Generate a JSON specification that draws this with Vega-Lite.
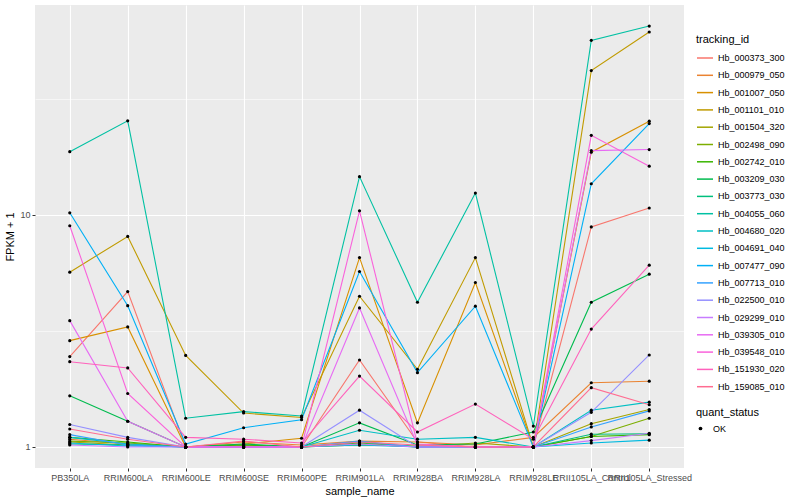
{
"$schema": "https://vega.github.io/schema/vega-lite/v6.json",
"width": 649, "height": 463,
"autosize": {"type": "none"},
"padding": {"left": 35, "top": 5, "right": 116, "bottom": 32},
"data": {"values": [
{"tracking_id":"Hb_000373_300","sample_name":"PB350LA","fpkm1":2.45,"quant_status":"OK"},
{"tracking_id":"Hb_000373_300","sample_name":"RRIM600LA","fpkm1":4.67,"quant_status":"OK"},
{"tracking_id":"Hb_000373_300","sample_name":"RRIM600LE","fpkm1":1.0,"quant_status":"OK"},
{"tracking_id":"Hb_000373_300","sample_name":"RRIM600SE","fpkm1":1.02,"quant_status":"OK"},
{"tracking_id":"Hb_000373_300","sample_name":"RRIM600PE","fpkm1":1.0,"quant_status":"OK"},
{"tracking_id":"Hb_000373_300","sample_name":"RRIM901LA","fpkm1":2.37,"quant_status":"OK"},
{"tracking_id":"Hb_000373_300","sample_name":"RRIM928BA","fpkm1":1.05,"quant_status":"OK"},
{"tracking_id":"Hb_000373_300","sample_name":"RRIM928LA","fpkm1":1.0,"quant_status":"OK"},
{"tracking_id":"Hb_000373_300","sample_name":"RRIM928LE","fpkm1":1.0,"quant_status":"OK"},
{"tracking_id":"Hb_000373_300","sample_name":"RRII105LA_Control","fpkm1":8.87,"quant_status":"OK"},
{"tracking_id":"Hb_000373_300","sample_name":"RRII105LA_Stressed","fpkm1":10.7,"quant_status":"OK"},
{"tracking_id":"Hb_000979_050","sample_name":"PB350LA","fpkm1":1.08,"quant_status":"OK"},
{"tracking_id":"Hb_000979_050","sample_name":"RRIM600LA","fpkm1":1.03,"quant_status":"OK"},
{"tracking_id":"Hb_000979_050","sample_name":"RRIM600LE","fpkm1":1.0,"quant_status":"OK"},
{"tracking_id":"Hb_000979_050","sample_name":"RRIM600SE","fpkm1":1.05,"quant_status":"OK"},
{"tracking_id":"Hb_000979_050","sample_name":"RRIM600PE","fpkm1":1.02,"quant_status":"OK"},
{"tracking_id":"Hb_000979_050","sample_name":"RRIM901LA","fpkm1":1.06,"quant_status":"OK"},
{"tracking_id":"Hb_000979_050","sample_name":"RRIM928BA","fpkm1":1.05,"quant_status":"OK"},
{"tracking_id":"Hb_000979_050","sample_name":"RRIM928LA","fpkm1":1.02,"quant_status":"OK"},
{"tracking_id":"Hb_000979_050","sample_name":"RRIM928LE","fpkm1":1.1,"quant_status":"OK"},
{"tracking_id":"Hb_000979_050","sample_name":"RRII105LA_Control","fpkm1":1.89,"quant_status":"OK"},
{"tracking_id":"Hb_000979_050","sample_name":"RRII105LA_Stressed","fpkm1":1.92,"quant_status":"OK"},
{"tracking_id":"Hb_001007_050","sample_name":"PB350LA","fpkm1":2.87,"quant_status":"OK"},
{"tracking_id":"Hb_001007_050","sample_name":"RRIM600LA","fpkm1":3.29,"quant_status":"OK"},
{"tracking_id":"Hb_001007_050","sample_name":"RRIM600LE","fpkm1":1.0,"quant_status":"OK"},
{"tracking_id":"Hb_001007_050","sample_name":"RRIM600SE","fpkm1":1.03,"quant_status":"OK"},
{"tracking_id":"Hb_001007_050","sample_name":"RRIM600PE","fpkm1":1.09,"quant_status":"OK"},
{"tracking_id":"Hb_001007_050","sample_name":"RRIM901LA","fpkm1":6.54,"quant_status":"OK"},
{"tracking_id":"Hb_001007_050","sample_name":"RRIM928BA","fpkm1":1.27,"quant_status":"OK"},
{"tracking_id":"Hb_001007_050","sample_name":"RRIM928LA","fpkm1":5.11,"quant_status":"OK"},
{"tracking_id":"Hb_001007_050","sample_name":"RRIM928LE","fpkm1":1.0,"quant_status":"OK"},
{"tracking_id":"Hb_001007_050","sample_name":"RRII105LA_Control","fpkm1":18.6,"quant_status":"OK"},
{"tracking_id":"Hb_001007_050","sample_name":"RRII105LA_Stressed","fpkm1":25.3,"quant_status":"OK"},
{"tracking_id":"Hb_001101_010","sample_name":"PB350LA","fpkm1":5.66,"quant_status":"OK"},
{"tracking_id":"Hb_001101_010","sample_name":"RRIM600LA","fpkm1":8.07,"quant_status":"OK"},
{"tracking_id":"Hb_001101_010","sample_name":"RRIM600LE","fpkm1":2.48,"quant_status":"OK"},
{"tracking_id":"Hb_001101_010","sample_name":"RRIM600SE","fpkm1":1.40,"quant_status":"OK"},
{"tracking_id":"Hb_001101_010","sample_name":"RRIM600PE","fpkm1":1.34,"quant_status":"OK"},
{"tracking_id":"Hb_001101_010","sample_name":"RRIM901LA","fpkm1":4.46,"quant_status":"OK"},
{"tracking_id":"Hb_001101_010","sample_name":"RRIM928BA","fpkm1":2.16,"quant_status":"OK"},
{"tracking_id":"Hb_001101_010","sample_name":"RRIM928LA","fpkm1":6.54,"quant_status":"OK"},
{"tracking_id":"Hb_001101_010","sample_name":"RRIM928LE","fpkm1":1.0,"quant_status":"OK"},
{"tracking_id":"Hb_001101_010","sample_name":"RRII105LA_Control","fpkm1":41.8,"quant_status":"OK"},
{"tracking_id":"Hb_001101_010","sample_name":"RRII105LA_Stressed","fpkm1":61.3,"quant_status":"OK"},
{"tracking_id":"Hb_001504_320","sample_name":"PB350LA","fpkm1":1.05,"quant_status":"OK"},
{"tracking_id":"Hb_001504_320","sample_name":"RRIM600LA","fpkm1":1.02,"quant_status":"OK"},
{"tracking_id":"Hb_001504_320","sample_name":"RRIM600LE","fpkm1":1.0,"quant_status":"OK"},
{"tracking_id":"Hb_001504_320","sample_name":"RRIM600SE","fpkm1":1.0,"quant_status":"OK"},
{"tracking_id":"Hb_001504_320","sample_name":"RRIM600PE","fpkm1":1.0,"quant_status":"OK"},
{"tracking_id":"Hb_001504_320","sample_name":"RRIM901LA","fpkm1":1.03,"quant_status":"OK"},
{"tracking_id":"Hb_001504_320","sample_name":"RRIM928BA","fpkm1":1.0,"quant_status":"OK"},
{"tracking_id":"Hb_001504_320","sample_name":"RRIM928LA","fpkm1":1.04,"quant_status":"OK"},
{"tracking_id":"Hb_001504_320","sample_name":"RRIM928LE","fpkm1":1.0,"quant_status":"OK"},
{"tracking_id":"Hb_001504_320","sample_name":"RRII105LA_Control","fpkm1":1.26,"quant_status":"OK"},
{"tracking_id":"Hb_001504_320","sample_name":"RRII105LA_Stressed","fpkm1":1.45,"quant_status":"OK"},
{"tracking_id":"Hb_002498_090","sample_name":"PB350LA","fpkm1":1.06,"quant_status":"OK"},
{"tracking_id":"Hb_002498_090","sample_name":"RRIM600LA","fpkm1":1.04,"quant_status":"OK"},
{"tracking_id":"Hb_002498_090","sample_name":"RRIM600LE","fpkm1":1.0,"quant_status":"OK"},
{"tracking_id":"Hb_002498_090","sample_name":"RRIM600SE","fpkm1":1.01,"quant_status":"OK"},
{"tracking_id":"Hb_002498_090","sample_name":"RRIM600PE","fpkm1":1.0,"quant_status":"OK"},
{"tracking_id":"Hb_002498_090","sample_name":"RRIM901LA","fpkm1":1.02,"quant_status":"OK"},
{"tracking_id":"Hb_002498_090","sample_name":"RRIM928BA","fpkm1":1.01,"quant_status":"OK"},
{"tracking_id":"Hb_002498_090","sample_name":"RRIM928LA","fpkm1":1.0,"quant_status":"OK"},
{"tracking_id":"Hb_002498_090","sample_name":"RRIM928LE","fpkm1":1.0,"quant_status":"OK"},
{"tracking_id":"Hb_002498_090","sample_name":"RRII105LA_Control","fpkm1":1.11,"quant_status":"OK"},
{"tracking_id":"Hb_002498_090","sample_name":"RRII105LA_Stressed","fpkm1":1.33,"quant_status":"OK"},
{"tracking_id":"Hb_002742_010","sample_name":"PB350LA","fpkm1":1.1,"quant_status":"OK"},
{"tracking_id":"Hb_002742_010","sample_name":"RRIM600LA","fpkm1":1.05,"quant_status":"OK"},
{"tracking_id":"Hb_002742_010","sample_name":"RRIM600LE","fpkm1":1.0,"quant_status":"OK"},
{"tracking_id":"Hb_002742_010","sample_name":"RRIM600SE","fpkm1":1.02,"quant_status":"OK"},
{"tracking_id":"Hb_002742_010","sample_name":"RRIM600PE","fpkm1":1.0,"quant_status":"OK"},
{"tracking_id":"Hb_002742_010","sample_name":"RRIM901LA","fpkm1":1.04,"quant_status":"OK"},
{"tracking_id":"Hb_002742_010","sample_name":"RRIM928BA","fpkm1":1.0,"quant_status":"OK"},
{"tracking_id":"Hb_002742_010","sample_name":"RRIM928LA","fpkm1":1.0,"quant_status":"OK"},
{"tracking_id":"Hb_002742_010","sample_name":"RRIM928LE","fpkm1":1.0,"quant_status":"OK"},
{"tracking_id":"Hb_002742_010","sample_name":"RRII105LA_Control","fpkm1":1.11,"quant_status":"OK"},
{"tracking_id":"Hb_002742_010","sample_name":"RRII105LA_Stressed","fpkm1":1.13,"quant_status":"OK"},
{"tracking_id":"Hb_003209_030","sample_name":"PB350LA","fpkm1":1.66,"quant_status":"OK"},
{"tracking_id":"Hb_003209_030","sample_name":"RRIM600LA","fpkm1":1.29,"quant_status":"OK"},
{"tracking_id":"Hb_003209_030","sample_name":"RRIM600LE","fpkm1":1.0,"quant_status":"OK"},
{"tracking_id":"Hb_003209_030","sample_name":"RRIM600SE","fpkm1":1.03,"quant_status":"OK"},
{"tracking_id":"Hb_003209_030","sample_name":"RRIM600PE","fpkm1":1.0,"quant_status":"OK"},
{"tracking_id":"Hb_003209_030","sample_name":"RRIM901LA","fpkm1":1.27,"quant_status":"OK"},
{"tracking_id":"Hb_003209_030","sample_name":"RRIM928BA","fpkm1":1.02,"quant_status":"OK"},
{"tracking_id":"Hb_003209_030","sample_name":"RRIM928LA","fpkm1":1.03,"quant_status":"OK"},
{"tracking_id":"Hb_003209_030","sample_name":"RRIM928LE","fpkm1":1.16,"quant_status":"OK"},
{"tracking_id":"Hb_003209_030","sample_name":"RRII105LA_Control","fpkm1":4.2,"quant_status":"OK"},
{"tracking_id":"Hb_003209_030","sample_name":"RRII105LA_Stressed","fpkm1":5.55,"quant_status":"OK"},
{"tracking_id":"Hb_003773_030","sample_name":"PB350LA","fpkm1":1.03,"quant_status":"OK"},
{"tracking_id":"Hb_003773_030","sample_name":"RRIM600LA","fpkm1":1.02,"quant_status":"OK"},
{"tracking_id":"Hb_003773_030","sample_name":"RRIM600LE","fpkm1":1.0,"quant_status":"OK"},
{"tracking_id":"Hb_003773_030","sample_name":"RRIM600SE","fpkm1":1.0,"quant_status":"OK"},
{"tracking_id":"Hb_003773_030","sample_name":"RRIM600PE","fpkm1":1.0,"quant_status":"OK"},
{"tracking_id":"Hb_003773_030","sample_name":"RRIM901LA","fpkm1":1.05,"quant_status":"OK"},
{"tracking_id":"Hb_003773_030","sample_name":"RRIM928BA","fpkm1":1.0,"quant_status":"OK"},
{"tracking_id":"Hb_003773_030","sample_name":"RRIM928LA","fpkm1":1.0,"quant_status":"OK"},
{"tracking_id":"Hb_003773_030","sample_name":"RRIM928LE","fpkm1":1.0,"quant_status":"OK"},
{"tracking_id":"Hb_003773_030","sample_name":"RRII105LA_Control","fpkm1":1.135,"quant_status":"OK"},
{"tracking_id":"Hb_003773_030","sample_name":"RRII105LA_Stressed","fpkm1":1.14,"quant_status":"OK"},
{"tracking_id":"Hb_004055_060","sample_name":"PB350LA","fpkm1":18.7,"quant_status":"OK"},
{"tracking_id":"Hb_004055_060","sample_name":"RRIM600LA","fpkm1":25.4,"quant_status":"OK"},
{"tracking_id":"Hb_004055_060","sample_name":"RRIM600LE","fpkm1":1.33,"quant_status":"OK"},
{"tracking_id":"Hb_004055_060","sample_name":"RRIM600SE","fpkm1":1.42,"quant_status":"OK"},
{"tracking_id":"Hb_004055_060","sample_name":"RRIM600PE","fpkm1":1.36,"quant_status":"OK"},
{"tracking_id":"Hb_004055_060","sample_name":"RRIM901LA","fpkm1":14.6,"quant_status":"OK"},
{"tracking_id":"Hb_004055_060","sample_name":"RRIM928BA","fpkm1":4.2,"quant_status":"OK"},
{"tracking_id":"Hb_004055_060","sample_name":"RRIM928LA","fpkm1":12.4,"quant_status":"OK"},
{"tracking_id":"Hb_004055_060","sample_name":"RRIM928LE","fpkm1":1.23,"quant_status":"OK"},
{"tracking_id":"Hb_004055_060","sample_name":"RRII105LA_Control","fpkm1":56.4,"quant_status":"OK"},
{"tracking_id":"Hb_004055_060","sample_name":"RRII105LA_Stressed","fpkm1":65.0,"quant_status":"OK"},
{"tracking_id":"Hb_004680_020","sample_name":"PB350LA","fpkm1":1.1,"quant_status":"OK"},
{"tracking_id":"Hb_004680_020","sample_name":"RRIM600LA","fpkm1":1.03,"quant_status":"OK"},
{"tracking_id":"Hb_004680_020","sample_name":"RRIM600LE","fpkm1":1.0,"quant_status":"OK"},
{"tracking_id":"Hb_004680_020","sample_name":"RRIM600SE","fpkm1":1.0,"quant_status":"OK"},
{"tracking_id":"Hb_004680_020","sample_name":"RRIM600PE","fpkm1":1.0,"quant_status":"OK"},
{"tracking_id":"Hb_004680_020","sample_name":"RRIM901LA","fpkm1":1.18,"quant_status":"OK"},
{"tracking_id":"Hb_004680_020","sample_name":"RRIM928BA","fpkm1":1.08,"quant_status":"OK"},
{"tracking_id":"Hb_004680_020","sample_name":"RRIM928LA","fpkm1":1.10,"quant_status":"OK"},
{"tracking_id":"Hb_004680_020","sample_name":"RRIM928LE","fpkm1":1.0,"quant_status":"OK"},
{"tracking_id":"Hb_004680_020","sample_name":"RRII105LA_Control","fpkm1":1.44,"quant_status":"OK"},
{"tracking_id":"Hb_004680_020","sample_name":"RRII105LA_Stressed","fpkm1":1.56,"quant_status":"OK"},
{"tracking_id":"Hb_004691_040","sample_name":"PB350LA","fpkm1":1.04,"quant_status":"OK"},
{"tracking_id":"Hb_004691_040","sample_name":"RRIM600LA","fpkm1":1.01,"quant_status":"OK"},
{"tracking_id":"Hb_004691_040","sample_name":"RRIM600LE","fpkm1":1.0,"quant_status":"OK"},
{"tracking_id":"Hb_004691_040","sample_name":"RRIM600SE","fpkm1":1.0,"quant_status":"OK"},
{"tracking_id":"Hb_004691_040","sample_name":"RRIM600PE","fpkm1":1.0,"quant_status":"OK"},
{"tracking_id":"Hb_004691_040","sample_name":"RRIM901LA","fpkm1":1.02,"quant_status":"OK"},
{"tracking_id":"Hb_004691_040","sample_name":"RRIM928BA","fpkm1":1.0,"quant_status":"OK"},
{"tracking_id":"Hb_004691_040","sample_name":"RRIM928LA","fpkm1":1.0,"quant_status":"OK"},
{"tracking_id":"Hb_004691_040","sample_name":"RRIM928LE","fpkm1":1.0,"quant_status":"OK"},
{"tracking_id":"Hb_004691_040","sample_name":"RRII105LA_Control","fpkm1":1.04,"quant_status":"OK"},
{"tracking_id":"Hb_004691_040","sample_name":"RRII105LA_Stressed","fpkm1":1.07,"quant_status":"OK"},
{"tracking_id":"Hb_007477_090","sample_name":"PB350LA","fpkm1":10.2,"quant_status":"OK"},
{"tracking_id":"Hb_007477_090","sample_name":"RRIM600LA","fpkm1":4.06,"quant_status":"OK"},
{"tracking_id":"Hb_007477_090","sample_name":"RRIM600LE","fpkm1":1.03,"quant_status":"OK"},
{"tracking_id":"Hb_007477_090","sample_name":"RRIM600SE","fpkm1":1.21,"quant_status":"OK"},
{"tracking_id":"Hb_007477_090","sample_name":"RRIM600PE","fpkm1":1.31,"quant_status":"OK"},
{"tracking_id":"Hb_007477_090","sample_name":"RRIM901LA","fpkm1":5.70,"quant_status":"OK"},
{"tracking_id":"Hb_007477_090","sample_name":"RRIM928BA","fpkm1":2.09,"quant_status":"OK"},
{"tracking_id":"Hb_007477_090","sample_name":"RRIM928LA","fpkm1":4.04,"quant_status":"OK"},
{"tracking_id":"Hb_007477_090","sample_name":"RRIM928LE","fpkm1":1.0,"quant_status":"OK"},
{"tracking_id":"Hb_007477_090","sample_name":"RRII105LA_Control","fpkm1":13.6,"quant_status":"OK"},
{"tracking_id":"Hb_007477_090","sample_name":"RRII105LA_Stressed","fpkm1":24.7,"quant_status":"OK"},
{"tracking_id":"Hb_007713_010","sample_name":"PB350LA","fpkm1":1.13,"quant_status":"OK"},
{"tracking_id":"Hb_007713_010","sample_name":"RRIM600LA","fpkm1":1.02,"quant_status":"OK"},
{"tracking_id":"Hb_007713_010","sample_name":"RRIM600LE","fpkm1":1.0,"quant_status":"OK"},
{"tracking_id":"Hb_007713_010","sample_name":"RRIM600SE","fpkm1":1.0,"quant_status":"OK"},
{"tracking_id":"Hb_007713_010","sample_name":"RRIM600PE","fpkm1":1.0,"quant_status":"OK"},
{"tracking_id":"Hb_007713_010","sample_name":"RRIM901LA","fpkm1":1.06,"quant_status":"OK"},
{"tracking_id":"Hb_007713_010","sample_name":"RRIM928BA","fpkm1":1.0,"quant_status":"OK"},
{"tracking_id":"Hb_007713_010","sample_name":"RRIM928LA","fpkm1":1.0,"quant_status":"OK"},
{"tracking_id":"Hb_007713_010","sample_name":"RRIM928LE","fpkm1":1.0,"quant_status":"OK"},
{"tracking_id":"Hb_007713_010","sample_name":"RRII105LA_Control","fpkm1":1.22,"quant_status":"OK"},
{"tracking_id":"Hb_007713_010","sample_name":"RRII105LA_Stressed","fpkm1":1.43,"quant_status":"OK"},
{"tracking_id":"Hb_022500_010","sample_name":"PB350LA","fpkm1":1.25,"quant_status":"OK"},
{"tracking_id":"Hb_022500_010","sample_name":"RRIM600LA","fpkm1":1.1,"quant_status":"OK"},
{"tracking_id":"Hb_022500_010","sample_name":"RRIM600LE","fpkm1":1.0,"quant_status":"OK"},
{"tracking_id":"Hb_022500_010","sample_name":"RRIM600SE","fpkm1":1.0,"quant_status":"OK"},
{"tracking_id":"Hb_022500_010","sample_name":"RRIM600PE","fpkm1":1.0,"quant_status":"OK"},
{"tracking_id":"Hb_022500_010","sample_name":"RRIM901LA","fpkm1":1.44,"quant_status":"OK"},
{"tracking_id":"Hb_022500_010","sample_name":"RRIM928BA","fpkm1":1.0,"quant_status":"OK"},
{"tracking_id":"Hb_022500_010","sample_name":"RRIM928LA","fpkm1":1.0,"quant_status":"OK"},
{"tracking_id":"Hb_022500_010","sample_name":"RRIM928LE","fpkm1":1.0,"quant_status":"OK"},
{"tracking_id":"Hb_022500_010","sample_name":"RRII105LA_Control","fpkm1":1.41,"quant_status":"OK"},
{"tracking_id":"Hb_022500_010","sample_name":"RRII105LA_Stressed","fpkm1":2.49,"quant_status":"OK"},
{"tracking_id":"Hb_029299_010","sample_name":"PB350LA","fpkm1":1.02,"quant_status":"OK"},
{"tracking_id":"Hb_029299_010","sample_name":"RRIM600LA","fpkm1":1.0,"quant_status":"OK"},
{"tracking_id":"Hb_029299_010","sample_name":"RRIM600LE","fpkm1":1.0,"quant_status":"OK"},
{"tracking_id":"Hb_029299_010","sample_name":"RRIM600SE","fpkm1":1.0,"quant_status":"OK"},
{"tracking_id":"Hb_029299_010","sample_name":"RRIM600PE","fpkm1":1.0,"quant_status":"OK"},
{"tracking_id":"Hb_029299_010","sample_name":"RRIM901LA","fpkm1":1.03,"quant_status":"OK"},
{"tracking_id":"Hb_029299_010","sample_name":"RRIM928BA","fpkm1":1.0,"quant_status":"OK"},
{"tracking_id":"Hb_029299_010","sample_name":"RRIM928LA","fpkm1":1.0,"quant_status":"OK"},
{"tracking_id":"Hb_029299_010","sample_name":"RRIM928LE","fpkm1":1.0,"quant_status":"OK"},
{"tracking_id":"Hb_029299_010","sample_name":"RRII105LA_Control","fpkm1":1.065,"quant_status":"OK"},
{"tracking_id":"Hb_029299_010","sample_name":"RRII105LA_Stressed","fpkm1":1.145,"quant_status":"OK"},
{"tracking_id":"Hb_039305_010","sample_name":"PB350LA","fpkm1":3.50,"quant_status":"OK"},
{"tracking_id":"Hb_039305_010","sample_name":"RRIM600LA","fpkm1":1.29,"quant_status":"OK"},
{"tracking_id":"Hb_039305_010","sample_name":"RRIM600LE","fpkm1":1.0,"quant_status":"OK"},
{"tracking_id":"Hb_039305_010","sample_name":"RRIM600SE","fpkm1":1.0,"quant_status":"OK"},
{"tracking_id":"Hb_039305_010","sample_name":"RRIM600PE","fpkm1":1.0,"quant_status":"OK"},
{"tracking_id":"Hb_039305_010","sample_name":"RRIM901LA","fpkm1":3.97,"quant_status":"OK"},
{"tracking_id":"Hb_039305_010","sample_name":"RRIM928BA","fpkm1":1.02,"quant_status":"OK"},
{"tracking_id":"Hb_039305_010","sample_name":"RRIM928LA","fpkm1":1.0,"quant_status":"OK"},
{"tracking_id":"Hb_039305_010","sample_name":"RRIM928LE","fpkm1":1.0,"quant_status":"OK"},
{"tracking_id":"Hb_039305_010","sample_name":"RRII105LA_Control","fpkm1":18.9,"quant_status":"OK"},
{"tracking_id":"Hb_039305_010","sample_name":"RRII105LA_Stressed","fpkm1":19.1,"quant_status":"OK"},
{"tracking_id":"Hb_039548_010","sample_name":"PB350LA","fpkm1":8.97,"quant_status":"OK"},
{"tracking_id":"Hb_039548_010","sample_name":"RRIM600LA","fpkm1":1.70,"quant_status":"OK"},
{"tracking_id":"Hb_039548_010","sample_name":"RRIM600LE","fpkm1":1.0,"quant_status":"OK"},
{"tracking_id":"Hb_039548_010","sample_name":"RRIM600SE","fpkm1":1.0,"quant_status":"OK"},
{"tracking_id":"Hb_039548_010","sample_name":"RRIM600PE","fpkm1":1.0,"quant_status":"OK"},
{"tracking_id":"Hb_039548_010","sample_name":"RRIM901LA","fpkm1":10.4,"quant_status":"OK"},
{"tracking_id":"Hb_039548_010","sample_name":"RRIM928BA","fpkm1":1.03,"quant_status":"OK"},
{"tracking_id":"Hb_039548_010","sample_name":"RRIM928LA","fpkm1":1.0,"quant_status":"OK"},
{"tracking_id":"Hb_039548_010","sample_name":"RRIM928LE","fpkm1":1.0,"quant_status":"OK"},
{"tracking_id":"Hb_039548_010","sample_name":"RRII105LA_Control","fpkm1":22.0,"quant_status":"OK"},
{"tracking_id":"Hb_039548_010","sample_name":"RRII105LA_Stressed","fpkm1":16.2,"quant_status":"OK"},
{"tracking_id":"Hb_151930_020","sample_name":"PB350LA","fpkm1":2.33,"quant_status":"OK"},
{"tracking_id":"Hb_151930_020","sample_name":"RRIM600LA","fpkm1":2.19,"quant_status":"OK"},
{"tracking_id":"Hb_151930_020","sample_name":"RRIM600LE","fpkm1":1.10,"quant_status":"OK"},
{"tracking_id":"Hb_151930_020","sample_name":"RRIM600SE","fpkm1":1.08,"quant_status":"OK"},
{"tracking_id":"Hb_151930_020","sample_name":"RRIM600PE","fpkm1":1.04,"quant_status":"OK"},
{"tracking_id":"Hb_151930_020","sample_name":"RRIM901LA","fpkm1":2.02,"quant_status":"OK"},
{"tracking_id":"Hb_151930_020","sample_name":"RRIM928BA","fpkm1":1.16,"quant_status":"OK"},
{"tracking_id":"Hb_151930_020","sample_name":"RRIM928LA","fpkm1":1.53,"quant_status":"OK"},
{"tracking_id":"Hb_151930_020","sample_name":"RRIM928LE","fpkm1":1.08,"quant_status":"OK"},
{"tracking_id":"Hb_151930_020","sample_name":"RRII105LA_Control","fpkm1":3.22,"quant_status":"OK"},
{"tracking_id":"Hb_151930_020","sample_name":"RRII105LA_Stressed","fpkm1":6.07,"quant_status":"OK"},
{"tracking_id":"Hb_159085_010","sample_name":"PB350LA","fpkm1":1.195,"quant_status":"OK"},
{"tracking_id":"Hb_159085_010","sample_name":"RRIM600LA","fpkm1":1.08,"quant_status":"OK"},
{"tracking_id":"Hb_159085_010","sample_name":"RRIM600LE","fpkm1":1.0,"quant_status":"OK"},
{"tracking_id":"Hb_159085_010","sample_name":"RRIM600SE","fpkm1":1.06,"quant_status":"OK"},
{"tracking_id":"Hb_159085_010","sample_name":"RRIM600PE","fpkm1":1.0,"quant_status":"OK"},
{"tracking_id":"Hb_159085_010","sample_name":"RRIM901LA","fpkm1":1.05,"quant_status":"OK"},
{"tracking_id":"Hb_159085_010","sample_name":"RRIM928BA","fpkm1":1.02,"quant_status":"OK"},
{"tracking_id":"Hb_159085_010","sample_name":"RRIM928LA","fpkm1":1.0,"quant_status":"OK"},
{"tracking_id":"Hb_159085_010","sample_name":"RRIM928LE","fpkm1":1.0,"quant_status":"OK"},
{"tracking_id":"Hb_159085_010","sample_name":"RRII105LA_Control","fpkm1":1.80,"quant_status":"OK"},
{"tracking_id":"Hb_159085_010","sample_name":"RRII105LA_Stressed","fpkm1":1.52,"quant_status":"OK"}
]},
"encoding": {
  "x": {"field": "sample_name", "type": "nominal",
    "sort": ["PB350LA","RRIM600LA","RRIM600LE","RRIM600SE","RRIM600PE","RRIM901LA","RRIM928BA","RRIM928LA","RRIM928LE","RRII105LA_Control","RRII105LA_Stressed"],
    "scale": {"type": "point", "padding": 0.6},
    "axis": {"title": "sample_name", "labelAngle": 0, "labelOverlap": false, "labelBound": false, "grid": true, "gridColor": "#FFFFFF", "gridWidth": 1.1, "titlePadding": 3}},
  "y": {"field": "fpkm1", "type": "quantitative",
    "scale": {"type": "log", "domain": [0.8117, 80.1], "nice": false, "zero": false},
    "axis": {"title": "FPKM + 1", "values": [1, 3.1623, 10, 31.623],
      "labelExpr": "datum.value == 1 ? '1' : (datum.value == 10 ? '10' : '')",
      "tickOpacity": {"condition": {"test": "datum.value == 1 || datum.value == 10", "value": 1}, "value": 0},
      "gridWidth": {"condition": {"test": "datum.value == 1 || datum.value == 10", "value": 1.1}, "value": 0.55},
      "grid": true, "gridColor": "#FFFFFF", "titlePadding": 4, "labelOverlap": false}}
},
"layer": [
  {"mark": {"type": "line", "strokeWidth": 1.1},
   "encoding": {
     "color": {"field": "tracking_id", "type": "nominal",
       "scale": {"domain": ["Hb_000373_300","Hb_000979_050","Hb_001007_050","Hb_001101_010","Hb_001504_320","Hb_002498_090","Hb_002742_010","Hb_003209_030","Hb_003773_030","Hb_004055_060","Hb_004680_020","Hb_004691_040","Hb_007477_090","Hb_007713_010","Hb_022500_010","Hb_029299_010","Hb_039305_010","Hb_039548_010","Hb_151930_020","Hb_159085_010"],
         "range": ["#F8766D","#EA8331","#D89000","#C09B00","#A3A500","#7CAE00","#39B600","#00BB4E","#00BF7D","#00C1A3","#00BFC4","#00BAE0","#00B0F6","#35A2FF","#9590FF","#C77CFF","#E76BF3","#FA62DB","#FF62BC","#FF6C91"]},
       "legend": {"title": "tracking_id", "orient": "none", "legendX": 661, "legendY": 29, "symbolType": "stroke", "symbolSize": 256, "symbolStrokeWidth": 1.5, "rowPadding": 3.3, "titlePadding": 4, "labelOffset": 4}},
     "order": {"value": null}
   }},
  {"mark": {"type": "point", "filled": true, "color": "#000000", "size": 10, "opacity": 1},
   "encoding": {
     "shape": {"field": "quant_status", "type": "nominal", "scale": {"range": ["circle"]},
       "legend": {"title": "quant_status", "orient": "none", "legendX": 661, "legendY": 402, "symbolSize": 14, "symbolFillColor": "#000000", "symbolStrokeColor": "#000000", "titlePadding": 6, "labelOffset": 8}}
   }}
],
"config": {
  "font": "Liberation Sans",
  "view": {"fill": "#EBEBEB", "stroke": null},
  "axis": {"domain": false, "tickColor": "#333333", "tickSize": 3, "labelColor": "#4D4D4D", "labelFontSize": 9, "labelPadding": 2, "titleFontSize": 11, "titleFontWeight": "normal", "titleColor": "#000000"},
  "legend": {"labelFontSize": 9, "labelColor": "#000000", "titleFontSize": 11, "titleFontWeight": "normal", "titleColor": "#000000"}
}
}
